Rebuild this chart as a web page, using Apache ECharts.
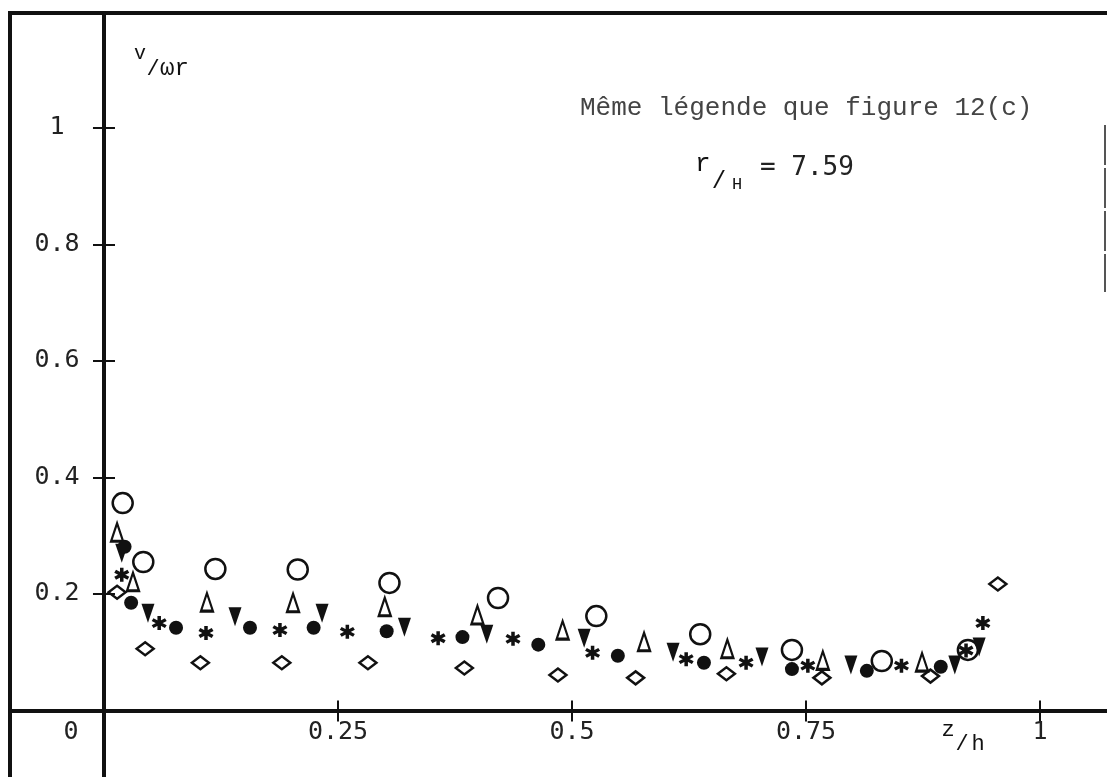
<!DOCTYPE html>
<html>
<head>
<meta charset="utf-8">
<script src="https://cdn.jsdelivr.net/npm/echarts@6/dist/echarts.min.js"></script>
<style>
  html, body { margin: 0; padding: 0; background: #fff; }
  #chart { width: 1107px; height: 777px; }
</style>
</head>
<body>
<div id="chart"></div>
<script>
// Profiles of v/ωr along z/h, one list of [z/h, v/ωr] pairs per symbol family
const openCircle = [[0.020,0.356],[0.042,0.255],[0.119,0.243],[0.207,0.242],[0.305,0.219],[0.421,0.193],[0.526,0.162],[0.637,0.131],[0.735,0.104],[0.831,0.085],[0.923,0.104]];
const openTriangle = [[0.014,0.306],[0.031,0.221],[0.110,0.186],[0.202,0.185],[0.300,0.178],[0.399,0.164],[0.490,0.138],[0.577,0.118],[0.666,0.106],[0.768,0.086],[0.874,0.083]];
const filledTriangleDown = [[0.019,0.270],[0.047,0.167],[0.140,0.161],[0.233,0.167],[0.321,0.143],[0.409,0.131],[0.513,0.124],[0.608,0.100],[0.703,0.092],[0.798,0.078],[0.909,0.078],[0.935,0.109]];
const filledCircle = [[0.022,0.281],[0.029,0.185],[0.077,0.142],[0.156,0.142],[0.224,0.142],[0.302,0.136],[0.383,0.126],[0.464,0.113],[0.549,0.094],[0.641,0.082],[0.735,0.071],[0.815,0.068],[0.894,0.075]];
const asterisk = [[0.019,0.233],[0.059,0.150],[0.109,0.133],[0.188,0.138],[0.260,0.135],[0.357,0.124],[0.437,0.123],[0.522,0.099],[0.622,0.088],[0.686,0.082],[0.752,0.077],[0.852,0.077],[0.921,0.103],[0.939,0.150]];
const openDiamond = [[0.014,0.203],[0.044,0.106],[0.103,0.082],[0.190,0.082],[0.282,0.082],[0.385,0.073],[0.485,0.061],[0.568,0.056],[0.665,0.063],[0.767,0.056],[0.883,0.059],[0.955,0.217]];

// Axis ticks and their labels
const xTickValues = [0, 0.25, 0.5, 0.75, 1];
const xTickLabels = ['0', '0.25', '0.5', '0.75', '1'];
const yTickValues = [0.2, 0.4, 0.6, 0.8, 1];
const yTickLabels = ['0.2', '0.4', '0.6', '0.8', '1'];

// Six-spoke star drawn as three overlapping bars
const STAR = 'path://M-2.3,-10L2.3,-10L2.3,10L-2.3,10Z' +
  'M7.51,-6.99L9.81,-3.01L-7.51,6.99L-9.81,3.01Z' +
  'M-9.81,-3.01L-7.51,-6.99L9.81,3.01L7.51,6.99Z';

const INK = '#111';
const MONO_DIGITS = '"DejaVu Sans Mono", monospace';
const MONO_TYPE = '"Liberation Mono", "DejaVu Sans Mono", monospace';

// Full plotting range: the axes cross at (0, 0) and run on past it to the frame
const X_RANGE = [-0.1004, 1.0716];
const Y_RANGE = [-0.1142, 1.1974];

function labelFor(values, labels) {
  return function (v) {
    const i = values.findIndex(t => Math.abs(t - v) < 1e-9);
    const s = i >= 0 ? labels[i] : '';
    return v === 0 ? '{zero|' + s + '}' : s;
  };
}

const chart = echarts.init(document.getElementById('chart'), null, { renderer: 'canvas' });

const axisCommon = {
  type: 'value',
  splitLine: { show: false },
  axisPointer: { show: false }
};
const noLabel = { show: false };
const noTick = { show: false };
const noLine = { show: false, onZero: false };

const option = {
  animation: false,
  backgroundColor: '#fff',
  grid: [
    // plotting area, axes drawn through the origin
    { left: 10, right: 0, top: 13, bottom: 0, containLabel: false, outerBoundsMode: 'none' },
    // quadrant starting at the origin, carries the tick labels
    { left: 104, right: 0, top: 13, bottom: 66.5, containLabel: false, outerBoundsMode: 'none' }
  ],
  xAxis: [
    Object.assign({}, axisCommon, {
      gridIndex: 0, min: X_RANGE[0], max: X_RANGE[1], position: 'bottom',
      axisLine: { show: true, onZero: true, onZeroAxisIndex: 0, lineStyle: { color: INK, width: 4 } },
      axisTick: { show: true, inside: false, length: 11, customValues: xTickValues, lineStyle: { color: INK, width: 2 } },
      axisLabel: noLabel
    }),
    Object.assign({}, axisCommon, {
      gridIndex: 0, min: X_RANGE[0], max: X_RANGE[1], position: 'bottom',
      axisLine: { show: false, onZero: true, onZeroAxisIndex: 1 },
      axisTick: { show: true, inside: true, length: 10, customValues: xTickValues, lineStyle: { color: INK, width: 2 } },
      axisLabel: noLabel
    }),
    Object.assign({}, axisCommon, {
      gridIndex: 1, min: 0, max: X_RANGE[1], position: 'bottom',
      axisLine: noLine, axisTick: noTick,
      axisLabel: {
        show: true, margin: 9, customValues: xTickValues,
        formatter: labelFor(xTickValues, xTickLabels),
        fontFamily: MONO_DIGITS, fontSize: 25, color: '#222',
        rich: { zero: { fontFamily: MONO_DIGITS, fontSize: 25, color: '#222', padding: [0, 66, 0, 0] } }
      }
    })
  ],
  yAxis: [
    Object.assign({}, axisCommon, {
      gridIndex: 0, min: Y_RANGE[0], max: Y_RANGE[1], position: 'left',
      axisLine: { show: true, onZero: true, onZeroAxisIndex: 0, lineStyle: { color: INK, width: 4 } },
      axisTick: { show: true, inside: false, length: 11, customValues: yTickValues, lineStyle: { color: INK, width: 2 } },
      axisLabel: noLabel
    }),
    Object.assign({}, axisCommon, {
      gridIndex: 0, min: Y_RANGE[0], max: Y_RANGE[1], position: 'left',
      axisLine: { show: false, onZero: true, onZeroAxisIndex: 1 },
      axisTick: { show: true, inside: true, length: 11, customValues: yTickValues, lineStyle: { color: INK, width: 2 } },
      axisLabel: noLabel
    }),
    Object.assign({}, axisCommon, {
      gridIndex: 1, min: 0, max: Y_RANGE[1], position: 'left',
      axisLine: noLine, axisTick: noTick,
      axisLabel: {
        show: true, margin: 47, align: 'center', customValues: yTickValues,
        formatter: labelFor(yTickValues, yTickLabels),
        fontFamily: MONO_DIGITS, fontSize: 25, color: '#222'
      }
    })
  ],
  series: [
    {
      name: 'openCircle', type: 'scatter', data: openCircle,
      symbol: 'circle', symbolSize: 20,
      itemStyle: { color: 'rgba(255,255,255,0)', borderColor: INK, borderWidth: 2.5, opacity: 1 }
    },
    {
      name: 'openTriangle', type: 'scatter', data: openTriangle,
      symbol: 'triangle', symbolSize: [12, 18],
      itemStyle: { color: 'rgba(255,255,255,0)', borderColor: INK, borderWidth: 2.5, opacity: 1 }
    },
    {
      name: 'filledTriangleDown', type: 'scatter', data: filledTriangleDown,
      symbol: 'triangle', symbolRotate: 180, symbolSize: [13, 19],
      itemStyle: { color: INK, opacity: 1 }
    },
    {
      name: 'filledCircle', type: 'scatter', data: filledCircle,
      symbol: 'circle', symbolSize: 14,
      itemStyle: { color: INK, opacity: 1 }
    },
    {
      name: 'asterisk', type: 'scatter', data: asterisk,
      symbol: STAR, symbolSize: [15, 14],
      itemStyle: { color: INK, opacity: 1 }
    },
    {
      name: 'openDiamond', type: 'scatter', data: openDiamond,
      symbol: 'diamond', symbolSize: [17, 13],
      itemStyle: { color: 'rgba(255,255,255,0)', borderColor: INK, borderWidth: 2.5, opacity: 1 }
    }
  ],
  graphic: [
    // outer frame: left and top edges, plus a short stretch of the right edge
    { type: 'polyline', silent: true, shape: { points: [[10, 777], [10, 13], [1107, 13]] },
      style: { stroke: INK, lineWidth: 4, fill: null } },
    { type: 'line', silent: true, shape: { x1: 1105, y1: 125, x2: 1105, y2: 292 },
      style: { stroke: '#555', lineWidth: 2, lineDash: [40, 3] } },

    // y-axis name  v/ωr
    { type: 'text', silent: true, style: { text: 'v', x: 140, y: 54, font: '20px ' + MONO_TYPE, fill: INK, textAlign: 'center', textVerticalAlign: 'middle' } },
    { type: 'text', silent: true, style: { text: '/', x: 153, y: 69, font: '22px ' + MONO_TYPE, fill: INK, textAlign: 'center', textVerticalAlign: 'middle' } },
    { type: 'text', silent: true, style: { text: 'ωr', x: 160, y: 69, font: '24px ' + MONO_TYPE, fill: INK, textAlign: 'left', textVerticalAlign: 'middle' } },

    // x-axis name  z/h
    { type: 'text', silent: true, style: { text: 'z', x: 948, y: 730, font: '22px ' + MONO_TYPE, fill: INK, textAlign: 'center', textVerticalAlign: 'middle' } },
    { type: 'text', silent: true, style: { text: '/', x: 962, y: 744, font: '22px ' + MONO_TYPE, fill: INK, textAlign: 'center', textVerticalAlign: 'middle' } },
    { type: 'text', silent: true, style: { text: 'h', x: 978, y: 744, font: '22px ' + MONO_TYPE, fill: INK, textAlign: 'center', textVerticalAlign: 'middle' } },

    // annotation
    { type: 'text', silent: true, style: { text: 'Même légende que figure 12(c)', x: 580, y: 108, font: '26px ' + MONO_TYPE, fill: '#444', textAlign: 'left', textVerticalAlign: 'middle' } },
    { type: 'text', silent: true, style: { text: 'r', x: 695, y: 164, font: '26px ' + MONO_TYPE, fill: INK, textAlign: 'left', textVerticalAlign: 'middle' } },
    { type: 'text', silent: true, style: { text: '/', x: 719, y: 182, font: '24px ' + MONO_TYPE, fill: INK, textAlign: 'center', textVerticalAlign: 'middle' } },
    { type: 'text', silent: true, style: { text: 'H', x: 737, y: 184, font: '17px ' + MONO_TYPE, fill: INK, textAlign: 'center', textVerticalAlign: 'middle' } },
    { type: 'text', silent: true, style: { text: '= 7.59', x: 760, y: 168, font: '26px ' + MONO_DIGITS, fill: '#222', textAlign: 'left', textVerticalAlign: 'middle' } }
  ]
};

chart.setOption(option);
</script>
</body>
</html>
